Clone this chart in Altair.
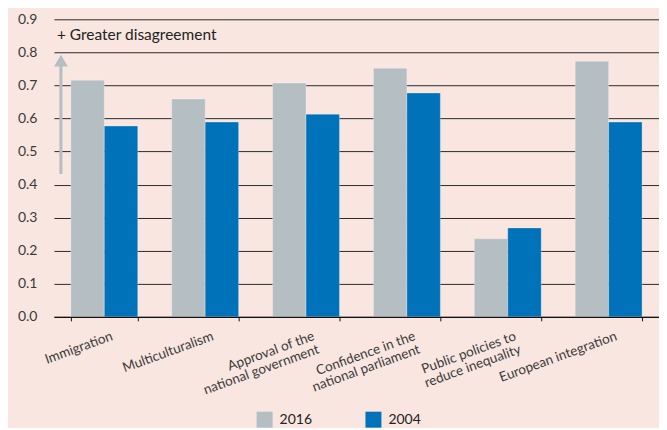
import altair as alt
import pandas as pd

categories = [
    "Immigration",
    "Multiculturalism",
    "Approval of the\nnational government",
    "Confidence in the\nnational parliament",
    "Public policies to\nreduce inequality",
    "European integration",
]
values_2016 = [0.716, 0.659, 0.707, 0.752, 0.236, 0.773]
values_2004 = [0.577, 0.589, 0.613, 0.677, 0.269, 0.589]
years = ["2016", "2004"]
colors = ["#b4bec3", "#0072b9"]
y_ticks = [0.0, 0.1, 0.2, 0.3, 0.4, 0.5, 0.6, 0.7, 0.8, 0.9]

rows = []
for c, a, b in zip(categories, values_2016, values_2004):
    rows.append({"category": c, "year": "2016", "value": a})
    rows.append({"category": c, "year": "2004", "value": b})
df = pd.DataFrame(rows)

FONT = "Lato"
BG = "#f9e6e0"

xscale = alt.Scale(paddingInner=0.337, paddingOuter=0.168)
yscale = alt.Scale(domain=[0, 0.9], nice=False)

bars = alt.Chart(df).mark_bar(strokeWidth=0.8, strokeOpacity=0.35, stroke="#ffffff").encode(
    x=alt.X(
        "category:N",
        sort=categories,
        scale=xscale,
        title=None,
        axis=alt.Axis(
            labelAngle=340,
            labelAlign="right",
            labelBaseline="top",
            labelExpr="split(datum.label, '\\n')",
            labelFont=FONT,
            labelFontSize=13.5,
            labelColor="#3a3a3a",
            labelLineHeight=14,
            labelPadding=8,
            labelOffset=5,
            tickBand="extent",
            tickSize=4,
            tickColor="#111111",
            domainColor="#111111",
            domainWidth=1.3,
            grid=False,
            zindex=1,
        ),
    ),
    xOffset=alt.XOffset("year:N", sort=years, scale=alt.Scale(paddingInner=0, paddingOuter=0)),
    y=alt.Y(
        "value:Q",
        scale=yscale,
        title=None,
        axis=alt.Axis(
            values=y_ticks,
            format=".1f",
            domain=False,
            ticks=False,
            grid=True,
            gridColor="#2a2a2a",
            gridWidth=1,
            labelFont=FONT,
            labelFontSize=14,
            labelColor="#3a3a3a",
            labelPadding=17,
            labelOverlap=False,
            tickCount=10,
        ),
    ),
    color=alt.Color(
        "year:N",
        sort=years,
        scale=alt.Scale(domain=years, range=colors),
        legend=alt.Legend(
            title=None,
            orient="none",
            legendX=203,
            legendY=393,
            direction="horizontal",
            symbolType="square",
            symbolSize=256,
            symbolStrokeWidth=0,
            symbolOpacity=1,
            labelFont=FONT,
            labelFontSize=14,
            labelColor="#222222",
            labelOffset=7,
            columnPadding=53,
            padding=0,
        ),
    ),
)

ann = pd.DataFrame({"y0": [0.432], "y1": [0.76], "tip": [0.775], "ty": [0.837],
                    "label": ["+ Greater disagreement"]})

arrow_line = alt.Chart(ann).mark_rule(color="#b4bec3", strokeWidth=3).encode(
    x=alt.value(7),
    y=alt.Y("y0:Q", scale=yscale),
    y2="y1:Q",
)
arrow_head = alt.Chart(ann).mark_point(
    shape="triangle-up", filled=True, color="#b4bec3", size=190, opacity=1
).encode(
    x=alt.value(7),
    y=alt.Y("tip:Q", scale=yscale),
)
label = alt.Chart(ann).mark_text(
    align="left", baseline="alphabetic", font=FONT, fontSize=15.5, color="#222222"
).encode(
    x=alt.value(3),
    y=alt.Y("ty:Q", scale=yscale),
    text="label:N",
)

chart = alt.layer(bars, arrow_line, arrow_head, label).properties(
    width=606,
    height=298,
    background=BG,
    autosize=alt.AutoSizeParams(type="none"),
    padding={"left": 46, "top": 11, "right": 0, "bottom": 111},
).configure_view(stroke=None)

chart.save("out.html", embed_options={"renderer": "svg", "actions": False})
